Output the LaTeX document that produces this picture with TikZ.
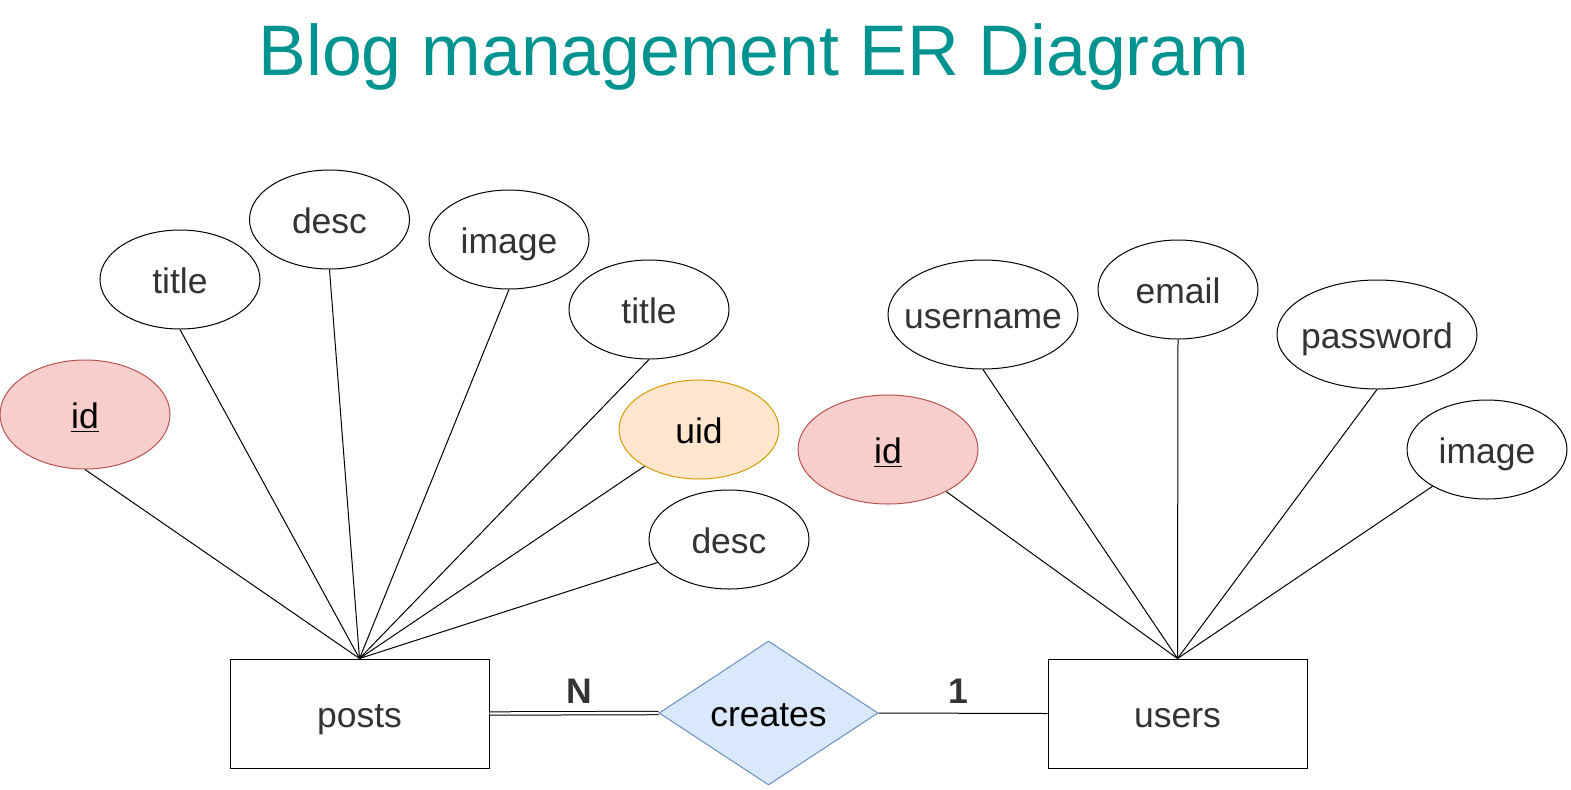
\documentclass[tikz,border=0pt]{standalone}
\usepackage{fontspec}
\setmainfont{Liberation Sans}
\usetikzlibrary{shapes.geometric}
\definecolor{txt}{HTML}{333333}
\definecolor{ttl}{RGB}{0,147,143}
\definecolor{pkfill}{HTML}{F8CECC}
\definecolor{pkdraw}{HTML}{B85450}
\definecolor{fkfill}{HTML}{FFE6CC}
\definecolor{fkdraw}{HTML}{D79B00}
\definecolor{relfill}{HTML}{DAE8FC}
\definecolor{reldraw}{HTML}{6C8EBF}
\tikzset{
  lbl/.style={font=\fontsize{17.75}{20}\selectfont, text=txt, text height=16.5pt, text depth=3pt, inner sep=0pt},
  attr/.style={ellipse, draw=black, line width=0.5pt, fill=white, inner sep=0pt},
  entity/.style={rectangle, draw=black, line width=0.5pt, fill=white, inner sep=0pt, minimum width=129.5pt, minimum height=54.5pt},
  conn/.style={draw=black, line width=0.5pt},
  card/.style={font=\fontsize{17.75}{20}\selectfont\bfseries, text=txt, inner sep=0pt, anchor=base},
}
\begin{document}
\begin{tikzpicture}[x=0.5pt, y=-0.5pt]
\useasboundingbox (0,0) rectangle (1571,789);
\node[anchor=base, font=\fontsize{35.8}{40}\selectfont, text=ttl, inner sep=0pt] (title) at (754,75) {Blog management ER Diagram};

% entities
\node[entity] (posts) at (359.5,713.5) {};
\node[lbl] (postsl) at (posts.center) {posts};
\node[entity] (users) at (1177.5,713.5) {};
\node[lbl] (usersl) at (users.center) {users};
\node[diamond, draw=reldraw, fill=relfill, line width=0.5pt, inner sep=0pt, minimum width=109.5pt, minimum height=72pt] (creates) at (768.5,713) {};
\node[lbl, text=black] (createsl) at (creates.center) {creates};

% posts attributes
\node[attr, fill=pkfill, draw=pkdraw, minimum width=85pt, minimum height=54.5pt] (pid) at (85,414.5) {};
\node[lbl, text=black] (pidl) at (pid.center) {\underline{id}};
\node[attr, minimum width=80pt, minimum height=49.5pt] (ptitle) at (180,279.5) {};
\node[lbl] (ptitlel) at (ptitle.center) {title};
\node[attr, minimum width=80pt, minimum height=49.5pt] (pdesc) at (329.5,219.5) {};
\node[lbl] (pdescl) at (pdesc.center) {desc};
\node[attr, minimum width=80pt, minimum height=49.5pt] (pimage) at (509,239.5) {};
\node[lbl] (pimagel) at (pimage.center) {image};
\node[attr, minimum width=80pt, minimum height=49.5pt] (ptitleb) at (649,309.5) {};
\node[lbl] (ptitlebl) at (ptitleb.center) {title};
\node[attr, fill=fkfill, draw=fkdraw, minimum width=80pt, minimum height=49.5pt] (puid) at (699,429.5) {};
\node[lbl, text=black] (puidl) at (puid.center) {uid};
\node[attr, minimum width=80pt, minimum height=49.5pt] (pdescb) at (729,539.5) {};
\node[lbl] (pdescbl) at (pdescb.center) {desc};

% users attributes
\node[attr, minimum width=95pt, minimum height=54.5pt] (uname) at (983,314.5) {};
\node[lbl] (unamel) at (uname.center) {username};
\node[attr, minimum width=80pt, minimum height=49.5pt] (uemail) at (1178,289.5) {};
\node[lbl] (uemaill) at (uemail.center) {email};
\node[attr, minimum width=100pt, minimum height=54.5pt] (upass) at (1377,334.5) {};
\node[lbl] (upassl) at (upass.center) {password};
\node[attr, fill=pkfill, draw=pkdraw, minimum width=90pt, minimum height=54.5pt] (uid) at (888,449.5) {};
\node[lbl, text=black] (uidl) at (uid.center) {\underline{id}};
\node[attr, minimum width=80pt, minimum height=49.5pt] (uimage) at (1487,449.5) {};
\node[lbl] (uimagel) at (uimage.center) {image};

% connectors posts
\draw[conn] (posts.north) -- (pid.south);
\draw[conn] (posts.north) -- (ptitle.south);
\draw[conn] (posts.north) -- (pdesc.south);
\draw[conn] (posts.north) -- (pimage.south);
\draw[conn] (posts.north) -- (ptitleb.south);
\draw[conn] (posts.north) -- (puid);
\draw[conn] (posts.north) -- (pdescb);
% connectors users
\draw[conn] (users.north) -- (uid);
\draw[conn] (users.north) -- (uname.south);
\draw[conn] (users.north) -- (uemail.south);
\draw[conn] (users.north) -- (upass.south);
\draw[conn] (users.north) -- (uimage);

% relationship lines
\draw[line width=0.5pt, double=white, double distance=1.2pt] (posts.east) -- (creates.west);
\draw[conn] (creates.east) -- (users.west);
\node[card] (cn) at (579,703) {N};
\node[card] (c1) at (958,703) {1};
\end{tikzpicture}
\end{document}
